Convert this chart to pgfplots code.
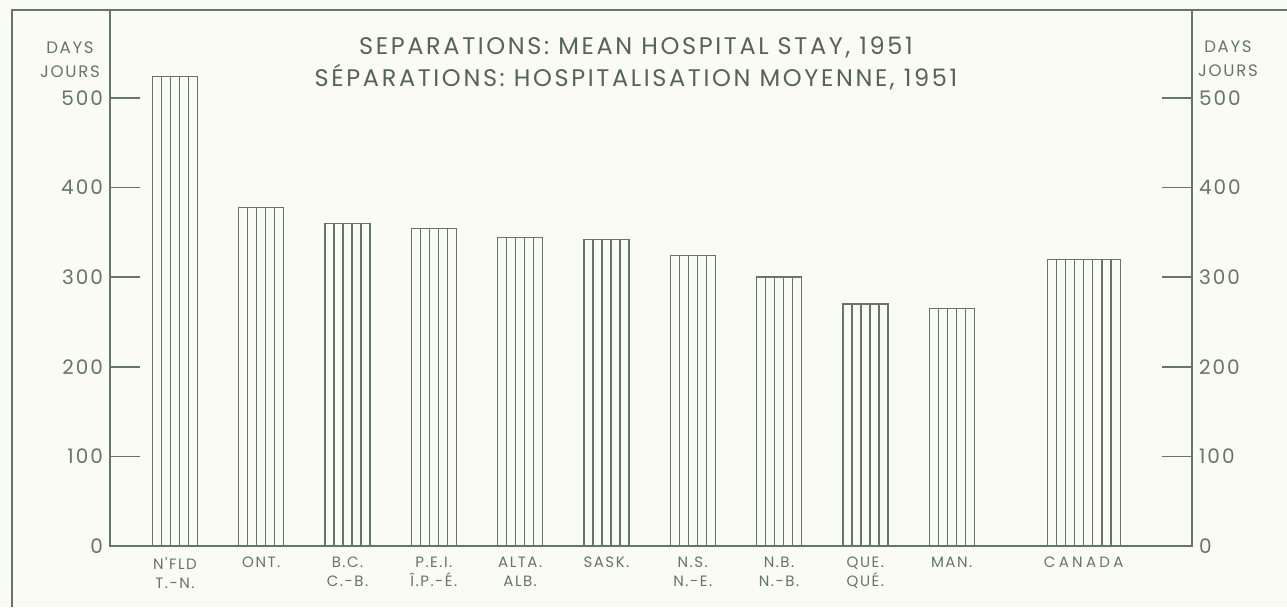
\documentclass[border=0pt]{standalone}
\usepackage{fontspec}
\setmainfont{Poppins}
\newfontfamily\titlefont[LetterSpace=11]{Poppins}
\newfontfamily\labfont[LetterSpace=10]{Poppins}
\newfontfamily\widefont[LetterSpace=22]{Poppins}
\usepackage{pgfplots}
\pgfplotsset{compat=1.18}
\definecolor{ink}{RGB}{100,118,100}
\definecolor{paper}{RGB}{250,251,244}
\pgfplotstableread{
x y
0 524
1 378
2 360
3 354
4 344
5 342
6 324
7 300
8 270
9 265
}\prov
\pgfplotstableread{
x y
10.53 320
}\canada
\begin{document}
\begin{tikzpicture}[x=0.5pt,y=0.5pt]
\path[use as bounding box, fill=paper] (0,0) rectangle (1287,607);
\draw[ink, line width=1.3pt] (12,0) -- (12,597) -- (1287,597);
\begin{axis}[
  at={(55pt,30.5pt)}, anchor=south west,
  width=541pt, height=268pt, scale only axis,
  xmin=-0.753, xmax=11.785, ymin=0, ymax=598,
  axis line style={ink, line width=1pt},
  ytick={0,100,200,300,400,500}, ytick pos=left, tick align=inside,
  major tick length=15pt,
  ytick style={ink, line width=0.8pt},
  /pgf/number format/assume math mode=true,
  yticklabel style={font=\labfont\fontsize{10}{12}\selectfont, text=ink},
  xtick={0,1,2,3,4,5,6,7,8,9,10.53},
  xticklabels={{N'FLD\\T.-N.},{ONT.},{B.C.\\C.-B.},{P.E.I.\\Î.P.-É.},{ALTA.\\ALB.},{SASK.},{N.S.\\N.-E.},{N.B.\\N.-B.},{QUE.\\QUÉ.},{MAN.},{\widefont CANADA}},
  xtick style={draw=none},
  xticklabel style={align=center, font=\labfont\fontsize{7.5}{9.5}\selectfont, text=ink, anchor=north, yshift=-2pt},
  clip=false,
]
\addplot[ybar, bar width=22.5pt, bar shift=0pt, draw=ink, line width=0.65pt, fill=paper] table {\prov};
\addplot[ybar, bar width=13.5pt, bar shift=0pt, draw=ink, line width=0.65pt, fill=none] table {\prov};
\addplot[ybar, bar width=4.5pt, bar shift=0pt, draw=ink, line width=0.65pt, fill=none] table {\prov};
\addplot[ybar, bar width=36.5pt, bar shift=0pt, draw=ink, line width=0.65pt, fill=paper] table {\canada};
\addplot[ybar, bar width=27.375pt, bar shift=0pt, draw=ink, line width=0.65pt, fill=none] table {\canada};
\addplot[ybar, bar width=18.25pt, bar shift=0pt, draw=ink, line width=0.65pt, fill=none] table {\canada};
\addplot[ybar, bar width=9.125pt, bar shift=0pt, draw=ink, line width=0.65pt, fill=none] table {\canada};
\addplot[ybar, bar width=0.01pt, bar shift=0pt, draw=ink, line width=0.65pt, fill=none] table {\canada};
\end{axis}
\begin{axis}[
  at={(55pt,30.5pt)}, anchor=south west,
  width=541pt, height=268pt, scale only axis,
  xmin=-0.753, xmax=11.785, ymin=0, ymax=598,
  axis x line=none, axis y line*=right,
  axis line style={ink, line width=1pt},
  ytick={0,100,200,300,400,500}, ytick pos=right, yticklabel pos=right, tick align=inside,
  major tick length=15pt,
  ytick style={ink, line width=0.8pt},
  /pgf/number format/assume math mode=true,
  yticklabel style={font=\labfont\fontsize{10}{12}\selectfont, text=ink},
]
\end{axis}
\node[text=ink, font=\labfont\fontsize{8.3}{10}\selectfont, align=center] at (70,547) {DAYS\\[2pt]JOURS};
\node[text=ink, font=\labfont\fontsize{8.3}{10}\selectfont, align=center] at (1228,548) {DAYS\\[2pt]JOURS};
\node[text=ink!85!black, font=\titlefont\fontsize{12}{13}\selectfont] at (636,560) {SEPARATIONS: MEAN HOSPITAL STAY, 1951};
\node[text=ink!85!black, font=\titlefont\fontsize{12}{13}\selectfont] at (636,530) {SÉPARATIONS: HOSPITALISATION MOYENNE, 1951};
\end{tikzpicture}
\end{document}
